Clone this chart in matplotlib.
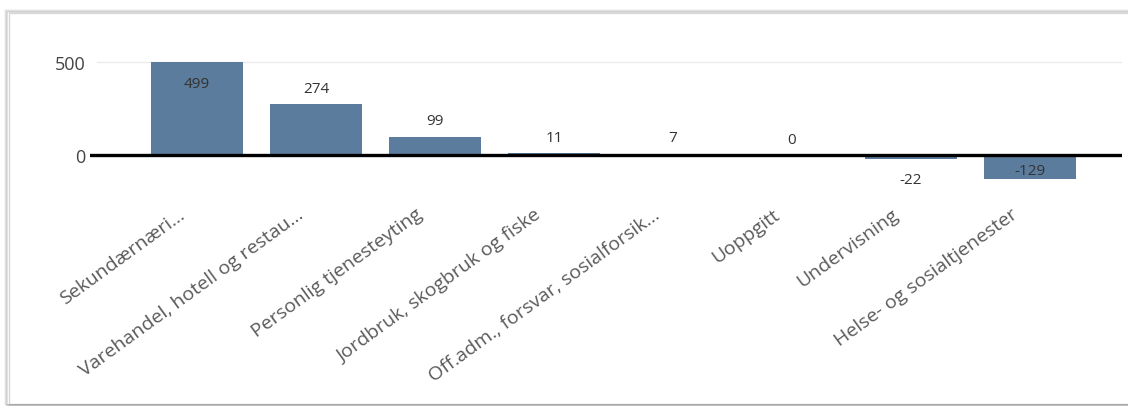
import matplotlib
matplotlib.use("Agg")
import matplotlib.pyplot as plt
import matplotlib.transforms as mtransforms
from matplotlib.patches import Rectangle

categories = [
    "Sekundærnæri...",
    "Varehandel, hotell og restau...",
    "Personlig tjenesteyting",
    "Jordbruk, skogbruk og fiske",
    "Off.adm., forsvar, sosialforsik...",
    "Uoppgitt",
    "Undervisning",
    "Helse- og sosialtjenester",
]
values = [499, 274, 99, 11, 7, 0, -22, -129]
yticks = [0, 500]
label_inside = [True, False, False, False, False, False, False, True]

W, H = 1128, 410
fig = plt.figure(figsize=(W / 100, H / 100), dpi=100)
fig.patch.set_facecolor("white")

# card frame with soft shadow
for i, a in enumerate([0.05, 0.09, 0.14]):
    off = (3 - i)
    fig.add_artist(Rectangle(((8 - off) / W, 4 / H), (W + 20) / W, (H - 14 + off) / H - 4 / H,
                             transform=fig.transFigure, facecolor="none",
                             edgecolor=(0, 0, 0, a), lw=1.2))
fig.add_artist(Rectangle((9 / W, 5 / H), (W + 20) / W, (H - 19) / H,
                         transform=fig.transFigure, facecolor="white",
                         edgecolor="#D8D8D8", lw=1.0, zorder=0))

left, right = 90, 1122
top, bottom = 30, 200
ax = fig.add_axes([left / W, 1 - bottom / H, (right - left) / W, (bottom - top) / H])
ax.set_facecolor("none")

x = list(range(len(categories)))
bar_color = "#5B7C9C"
ax.bar(x, values, width=0.775, color=bar_color, zorder=2)

# x range: bar0 center at px 197, spacing 119
ax.set_xlim((left - 197) / 119, (right - 197) / 119)
ax.set_ylim(-(bottom - 156) / 93 * 500, (156 - top) / 93 * 500)

ax.axhline(500, xmin=0.007, color="#EBEBEB", lw=1.0, zorder=1)
ax.axhline(0, color="black", lw=2.4, zorder=3)

ax.set_yticks(yticks)
ax.set_yticklabels([str(v) for v in yticks], fontsize=13, color="#444444", family="Open Sans")
ax.tick_params(axis="y", length=0, pad=3)

ax.set_xticks(x)
ax.set_xticklabels(categories, rotation=36, ha="right", rotation_mode="anchor",
                   fontsize=14, color="#5A5A5A", family="Open Sans")
ax.tick_params(axis="x", length=0, pad=7)
shift = mtransforms.ScaledTranslation(-0.2, 0.04, fig.dpi_scale_trans)
for t in ax.get_xticklabels():
    t.set_transform(t.get_transform() + shift)

for sp in ax.spines.values():
    sp.set_visible(False)

lab = dict(ha="center", fontsize=11, color="#333333", family="Open Sans", zorder=4,
           textcoords="offset points")
for xi, v, ins in zip(x, values, label_inside):
    if v >= 0:
        if ins:
            ax.annotate(str(v), (xi, v), xytext=(0, -10), va="top", **lab)
        else:
            ax.annotate(str(v), (xi, v), xytext=(0, 6), va="bottom", **lab)
    else:
        if ins:
            ax.annotate(str(v), (xi, v), xytext=(0, 1), va="bottom", **lab)
        else:
            ax.annotate(str(v), (xi, v), xytext=(0, -9), va="top", **lab)

fig.savefig("out.png", dpi=100, facecolor="white")
